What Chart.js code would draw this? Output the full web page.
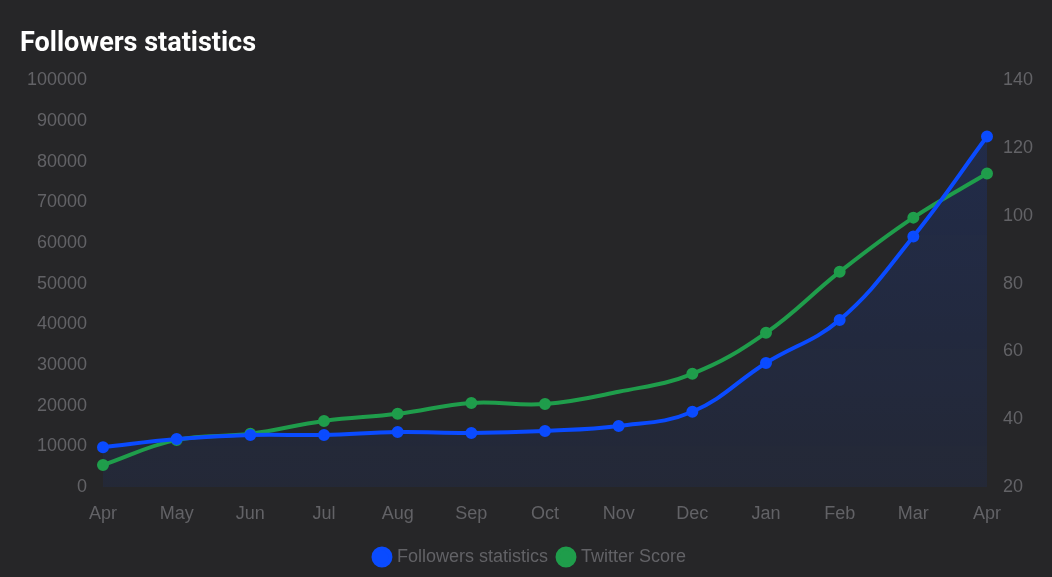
<!DOCTYPE html>
<html>
<head>
<meta charset="utf-8">
<script src="https://cdn.jsdelivr.net/npm/chart.js@4"></script>
<style>
    html, body { margin: 0; padding: 0; background: #262628; }
    #wrap { width: 1052px; height: 577px; position: relative; }
</style>
</head>
<body>
<div id="wrap"><canvas id="followers-chart"></canvas></div>
<script>
const months = ['Apr', 'May', 'Jun', 'Jul', 'Aug', 'Sep', 'Oct', 'Nov', 'Dec', 'Jan', 'Feb', 'Mar', 'Apr'];
const followers = [9800, 11800, 12800, 12800, 13500, 13300, 13800, 15000, 18500, 30500, 41100, 61600, 86200];
const twitterScore = [26.5, 33.9, 35.7, 39.5, 41.6, 44.8, 44.5, 48.1, 53.4, 65.5, 83.5, 99.5, 112.5];

const tickColor = '#626266';
const tickFont = { family: 'Liberation Sans', size: 18 };
const ctx = document.getElementById('followers-chart').getContext('2d');

// no green dot drawn at Nov in the original
const scoreRadius = twitterScore.map((v, i) => i === 7 ? 0 : 4);

function followersFill(context) {
    const area = context.chart.chartArea;
    if (!area) return 'rgba(10, 75, 255, 0.1)';
    const g = context.chart.ctx.createLinearGradient(0, area.top, 0, area.bottom);
    g.addColorStop(0, 'rgba(10, 75, 255, 0.17)');
    g.addColorStop(1, 'rgba(10, 75, 255, 0.07)');
    return g;
}

new Chart(ctx, {
    type: 'line',
    data: {
        labels: months,
        datasets: [{
            label: 'Followers statistics',
            data: followers,
            yAxisID: 'y',
            borderColor: '#0a4bff',
            backgroundColor: '#0a4bff',
            borderWidth: 4,
            pointRadius: 4,
            pointHoverRadius: 6,
            tension: 0.4,
            fill: { target: 'origin', above: followersFill },
            order: 1
        }, {
            label: 'Twitter Score',
            data: twitterScore,
            yAxisID: 'y1',
            borderColor: '#1f9d4b',
            backgroundColor: '#1f9d4b',
            borderWidth: 4,
            pointRadius: scoreRadius,
            pointHoverRadius: 6,
            tension: 0.4,
            fill: false,
            order: 2
        }]
    },
    options: {
        responsive: true,
        maintainAspectRatio: false,
        animation: false,
        layout: { padding: { left: 20, right: 10, top: 10, bottom: 1 } },
        plugins: {
            filler: { drawTime: 'beforeDatasetsDraw' },
            title: {
                display: true,
                text: 'Followers statistics',
                align: 'start',
                color: '#ffffff',
                font: { family: 'Roboto', size: 27, weight: 'bold' },
                padding: { top: 18, bottom: 20 }
            },
            legend: {
                position: 'bottom',
                labels: {
                    usePointStyle: true,
                    pointStyle: 'circle',
                    boxWidth: 12,
                    boxHeight: 12,
                    padding: 12,
                    color: tickColor,
                    font: tickFont
                }
            }
        },
        scales: {
            x: {
                grid: { display: false },
                border: { display: false },
                afterFit: axis => { axis.height = 49; },
                ticks: { color: tickColor, font: tickFont, padding: 8 }
            },
            y: {
                position: 'left',
                min: 0,
                max: 100000,
                grid: { display: false },
                border: { display: false },
                afterFit: axis => { axis.width = 83; },
                ticks: {
                    stepSize: 10000,
                    color: tickColor,
                    font: tickFont,
                    padding: 8,
                    callback: value => String(value)
                }
            },
            y1: {
                position: 'right',
                min: 20,
                max: 140,
                grid: { display: false },
                border: { display: false },
                afterFit: axis => { axis.width = 55; },
                ticks: { stepSize: 20, color: tickColor, font: tickFont, padding: 8 }
            }
        }
    }
});
</script>
</body>
</html>
